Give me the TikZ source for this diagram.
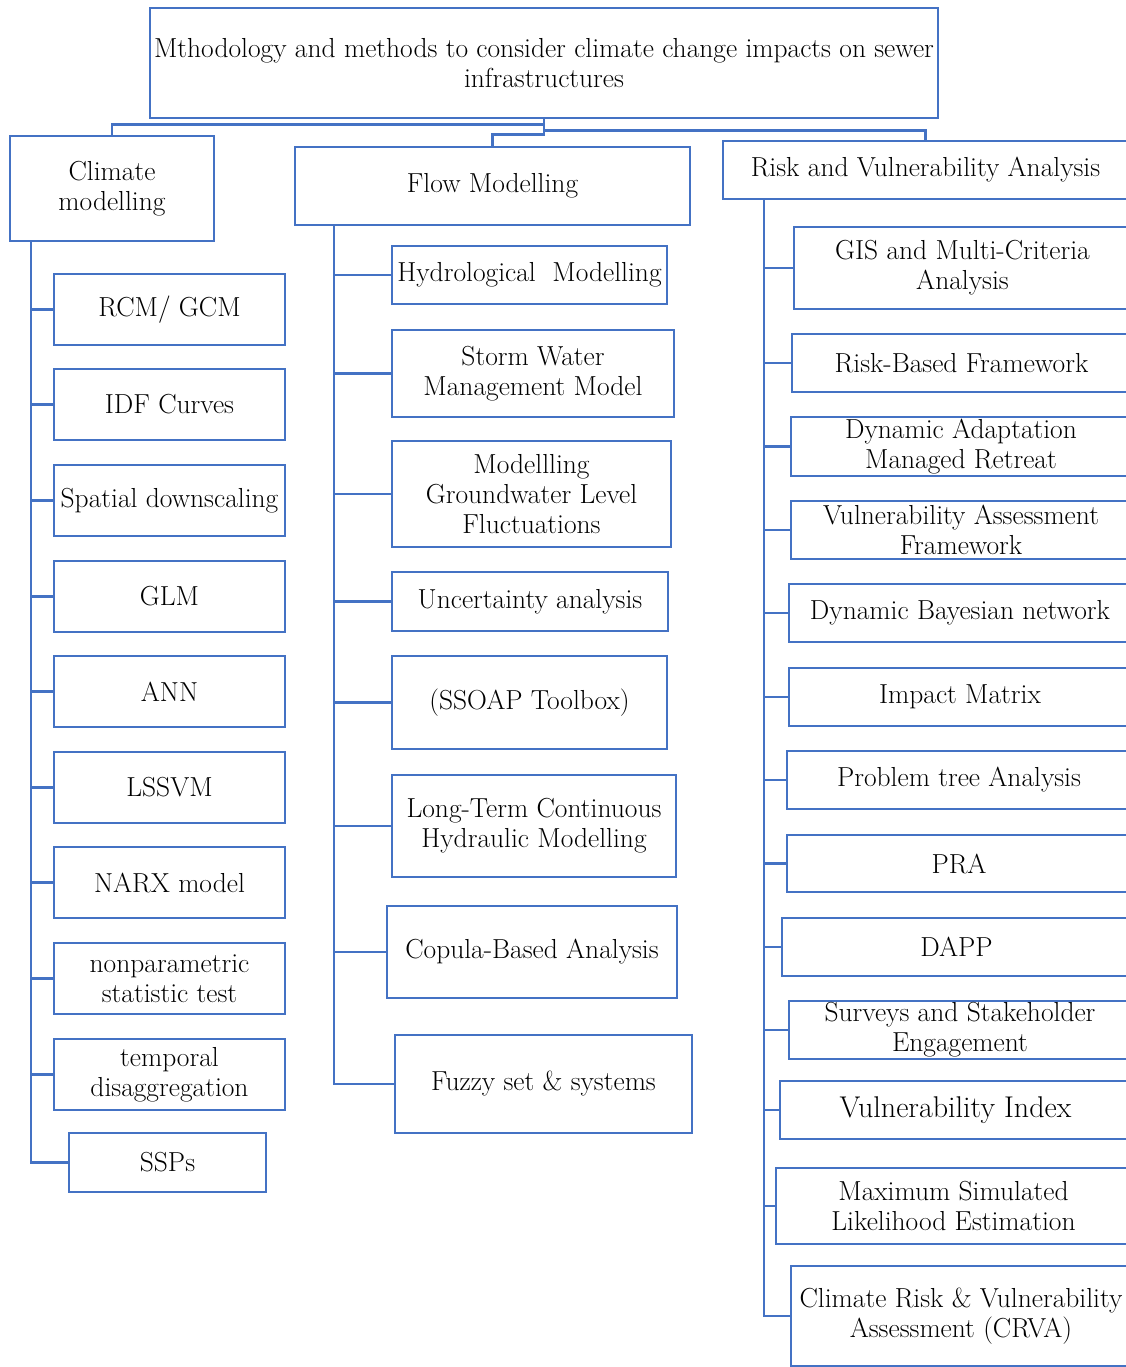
\documentclass[tikz,border=0pt]{standalone}
\usetikzlibrary{calc}
\definecolor{bblue}{RGB}{68,114,196}
\tikzset{
  box/.style={draw=bblue, line width=2.8pt, fill=white, inner sep=0pt, align=center,
    font=\fontsize{27.5}{30}\selectfont, text=black},
  conn/.style={draw=bblue, line width=2.8pt}
}
\newcommand\bx[6][]{\node[box,#1, minimum width={#4-#2}, minimum height={#5-#3}] at ({(#2+#4)/2},{(#3+#5)/2}) {#6};}
\begin{document}
\begin{tikzpicture}[x=1pt,y=-1pt]
\useasboundingbox (0,0) rectangle (1126,1367);
\clip (0,0) rectangle (1126,1367);
% headers
\node[box, minimum width=788, minimum height=110] (top) at (544,63) {Mthodology and methods to consider climate change impacts on sewer\\infrastructures};
\node[box, minimum width=204, minimum height=105] (climate) at (112,188.5) {Climate\\modelling};
\node[box, minimum width=395, minimum height=78] (flow) at (492.5,186) {Flow Modelling};
\node[box, minimum width=405, minimum height=58] (risk) at (925.5,170) {Risk and Vulnerability Analysis};
% top connectors
\draw[conn] (top.south) -- ++(0,5) -| (climate.north);
\draw[conn] (top.south) -- ++(0,15) -| (flow.north);
\draw[conn] (top.south) -- ++(0,11) -| (risk.north);
% trunk coordinates
\coordinate (ct) at (31,241);
\coordinate (ft) at (334,225);
\coordinate (rt) at (764,199);
% climate column
\bx[name=rcm]{54}{274}{285}{345}{RCM/ GCM}
\bx[name=idf]{54}{369}{285}{440}{IDF Curves}
\bx[name=spat]{54}{465}{285}{536}{Spatial downscaling}
\bx[name=glm]{54}{561}{285}{632}{GLM}
\bx[name=ann]{54}{656}{285}{727}{ANN}
\bx[name=lssvm]{54}{752}{285}{823}{LSSVM}
\bx[name=narx]{54}{847}{285}{918}{NARX model}
\bx[name=nonp]{54}{943}{285}{1014}{nonparametric\\statistic test}
\bx[name=temp]{54}{1039}{285}{1110}{temporal\\disaggregation}
\bx[name=ssp]{69}{1133}{266}{1192}{SSPs}
\draw[conn] (ct) |- (ssp.west);
\foreach \n in {rcm,idf,spat,glm,ann,lssvm,narx,nonp,temp}
  \draw[conn] (\n.west -| ct) -- (\n.west);
% flow column
\bx[name=hyd]{392}{246}{667}{304}{Hydrological~ Modelling}
\bx[name=swmm]{392}{330}{674}{417}{Storm Water\\Management Model}
\bx[name=gw]{392}{441}{671}{547}{Modellling\\Groundwater Level\\Fluctuations}
\bx[name=unc]{392}{572}{668}{631}{Uncertainty analysis}
\bx[name=ssoap]{392}{656}{667}{749}{(SSOAP Toolbox)}
\bx[name=lt]{392}{775}{676}{877}{Long-Term Continuous\\Hydraulic Modelling}
\bx[name=cop]{387}{906}{677}{998}{Copula-Based Analysis}
\bx[name=fuz]{395}{1035}{692}{1133}{Fuzzy set \& systems}
\draw[conn] (ft) |- (fuz.west);
\foreach \n in {hyd,swmm,gw,unc,ssoap,lt,cop}
  \draw[conn] (\n.west -| ft) -- (\n.west);
% risk column
\bx[name=gis]{794}{227}{1131}{309}{GIS and Multi-Criteria\\Analysis}
\bx[name=rbf]{792}{334}{1131}{392}{Risk-Based Framework}
\bx[name=dyn]{791}{417}{1131}{476}{Dynamic Adaptation\\Managed Retreat}
\bx[name=vaf]{791}{501}{1131}{559}{Vulnerability Assessment\\Framework}
\bx[name=dbn]{789}{584}{1131}{642}{Dynamic Bayesian network}
\bx[name=imp]{789}{668}{1131}{726}{Impact Matrix}
\bx[name=ptree]{787}{751}{1131}{809}{Problem tree Analysis}
\bx[name=pra]{787}{835}{1131}{892}{PRA}
\bx[name=dapp]{782}{918}{1131}{976}{DAPP}
\bx[name=surv]{789}{1001}{1131}{1059}{Surveys and Stakeholder\\Engagement}
\bx[name=vi,font=\fontsize{30}{30}\selectfont]{780}{1081}{1131}{1139}{Vulnerability Index}
\bx[name=msl]{776}{1168}{1131}{1244}{Maximum Simulated\\Likelihood Estimation}
\bx[name=crva]{791}{1266}{1131}{1366}{Climate Risk \& Vulnerability\\Assessment (CRVA)}
\draw[conn] (rt) |- (crva.west);
\foreach \n in {gis,rbf,dyn,vaf,dbn,imp,ptree,pra,dapp,surv,vi,msl}
  \draw[conn] (\n.west -| rt) -- (\n.west);
\end{tikzpicture}
\end{document}
